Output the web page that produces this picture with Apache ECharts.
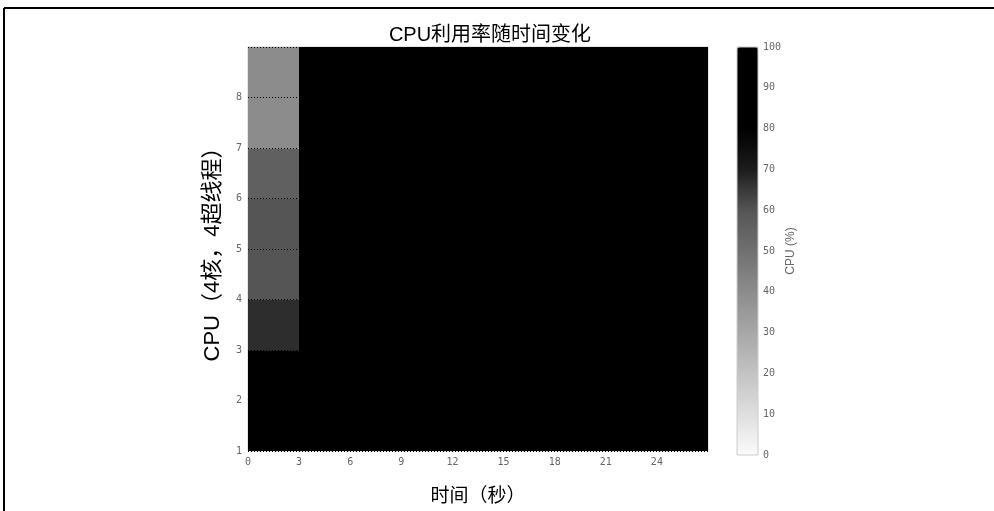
<!DOCTYPE html>
<html>
<head>
<meta charset="utf-8">
<script src="https://cdn.jsdelivr.net/npm/echarts@6/dist/echarts.min.js"></script>
<style>
  html, body { margin: 0; padding: 0; background: #fff; }
  #cpu-heatmap { width: 994px; height: 511px; }
</style>
</head>
<body>
<div id="cpu-heatmap"></div>
<script>
// 时间分箱（秒），每格 3 秒
var times = [0, 3, 6, 9, 12, 15, 18, 21, 24];
var binWidth = 3;
// CPU 编号（4核，4超线程）
var cpus = [1, 2, 3, 4, 5, 6, 7, 8];
// 每个 CPU 随时间的利用率 (%)
var usage = [
  [100, 100, 100, 100, 100, 100, 100, 100, 100], // cpu 1
  [100, 100, 100, 100, 100, 100, 100, 100, 100], // cpu 2
  [67, 100, 100, 100, 100, 100, 100, 100, 100],  // cpu 3
  [60, 100, 100, 100, 100, 100, 100, 100, 100],  // cpu 4
  [60, 100, 100, 100, 100, 100, 100, 100, 100],  // cpu 5
  [56, 100, 100, 100, 100, 100, 100, 100, 100],  // cpu 6
  [40, 100, 100, 100, 100, 100, 100, 100, 100],  // cpu 7
  [40, 100, 100, 100, 100, 100, 100, 100, 100]   // cpu 8
];
var xTicks = [0, 3, 6, 9, 12, 15, 18, 21, 24];
var yTicks = [1, 2, 3, 4, 5, 6, 7, 8];

var data = [];
cpus.forEach(function (c, i) {
  times.forEach(function (t, j) {
    data.push([t, c, usage[i][j]]);
  });
});

var font = '"Liberation Sans", "Noto Sans CJK SC", sans-serif';
var mono = '"DejaVu Sans Mono", monospace';

var myChart = echarts.init(document.getElementById('cpu-heatmap'));

var option = {
  animation: false,
  backgroundColor: '#fff',
  title: {
    text: 'CPU利用率随时间变化',
    left: 485,
    textAlign: 'center',
    top: 20,
    textStyle: { fontFamily: font, fontSize: 20, fontWeight: 'normal', color: '#000' }
  },
  graphic: [
    { type: 'line', shape: { x1: 4, y1: 8, x2: 994, y2: 8 }, style: { stroke: '#000', lineWidth: 2 } },
    { type: 'line', shape: { x1: 4, y1: 8, x2: 4, y2: 511 }, style: { stroke: '#000', lineWidth: 2 } }
  ],
  grid: [
    { left: 248, right: 286, top: 47, bottom: 56, show: true, borderColor: '#ccc', borderWidth: 1, backgroundColor: 'transparent' },
    { left: 737, width: 21, top: 47, bottom: 56, show: true, borderColor: '#ccc', borderWidth: 1, z: 10 }
  ],
  xAxis: [
    {
      type: 'value', gridIndex: 0, min: 0, max: 27, interval: 3,
      name: '时间（秒）', nameLocation: 'middle', nameGap: 36,
      nameTextStyle: { fontFamily: font, fontSize: 19, color: '#000' },
      axisLine: { show: false }, axisTick: { show: false },
      axisLabel: {
        fontFamily: mono, fontSize: 10, color: '#666', margin: 6,
        formatter: function (v) { return xTicks.indexOf(v) >= 0 ? String(v) : ''; }
      },
      splitLine: { show: false }
    },
    { type: 'value', gridIndex: 1, show: false, min: 0, max: 1 }
  ],
  yAxis: [
    {
      type: 'value', gridIndex: 0, min: 1, max: 9, interval: 1, z: 5,
      name: 'CPU（4核，4超线程）', nameLocation: 'middle', nameGap: 24, nameRotate: 90,
      nameTextStyle: { fontFamily: font, fontSize: 22, color: '#000' },
      axisLine: { show: false }, axisTick: { show: false },
      axisLabel: {
        fontFamily: mono, fontSize: 10, color: '#666', margin: 6,
        formatter: function (v) { return yTicks.indexOf(v) >= 0 ? String(v) : ''; }
      },
      splitLine: { show: true, lineStyle: { color: '#000', type: [1, 2], width: 1 } }
    },
    {
      type: 'value', gridIndex: 1, position: 'right', min: 0, max: 100, interval: 10,
      name: 'CPU (%)', nameLocation: 'middle', nameGap: 26, nameRotate: 90,
      nameTextStyle: { fontFamily: font, fontSize: 12, color: '#666' },
      axisLine: { show: false }, axisTick: { show: false },
      axisLabel: { fontFamily: mono, fontSize: 10, color: '#666', margin: 5 },
      splitLine: { show: false }
    }
  ],
  visualMap: {
    type: 'continuous',
    min: 0, max: 100,
    dimension: 2,
    seriesIndex: 0,
    calculable: false,
    left: 737, top: 47,
    itemWidth: 21, itemHeight: 408,
    padding: 0,
    text: ['', ''],
    showLabel: false,
    inRange: {
      color: ['#fbfbfb', '#dedede', '#c3c3c3', '#a7a7a7', '#8c8c8c', '#707070',
              '#555555', '#1c1c1c', '#000000', '#000000', '#000000']
    }
  },
  series: [{
    type: 'custom',
    xAxisIndex: 0,
    yAxisIndex: 0,
    encode: { x: 0, y: 1 },
    data: data,
    renderItem: function (params, api) {
      var x0 = api.value(0), y0 = api.value(1);
      var p1 = api.coord([x0, y0 + 1]);
      var p2 = api.coord([x0 + binWidth, y0]);
      var left = Math.round(p1[0]), top = Math.round(p1[1]);
      var right = Math.round(p2[0]), bottom = Math.round(p2[1]);
      // 向右、向下各多铺 1px，消除相邻格子间的抗锯齿缝隙
      var lastCol = x0 + binWidth >= 27, lastRow = y0 <= 1;
      return {
        type: 'rect',
        shape: {
          x: left, y: top,
          width: right - left + (lastCol ? 0 : 1),
          height: bottom - top + (lastRow ? 0 : 1)
        },
        style: { fill: api.visual('color') }
      };
    }
  }]
};

myChart.setOption(option);
</script>
</body>
</html>
